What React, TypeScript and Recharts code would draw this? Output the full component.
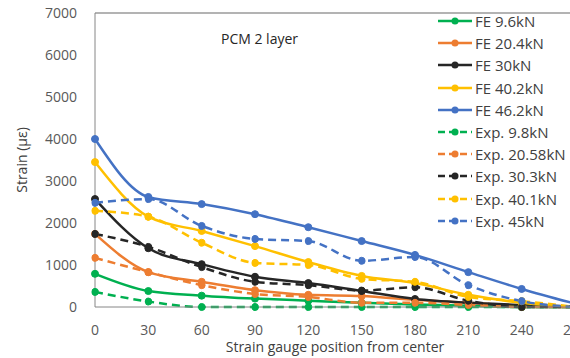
import React from "react";
import { LineChart, Line, XAxis, YAxis, ReferenceLine } from "recharts";

const positions = [0, 30, 60, 90, 120, 150, 180, 210, 240, 270];
const yTicks = [0, 1000, 2000, 3000, 4000, 5000, 6000, 7000];

// FE results
const fe96 = [790, 380, 270, 200, 150, 100, 60, 30, 0, 0];
const fe204 = [1740, 830, 600, 400, 290, 260, 170, 100, 30, 0];
const fe30 = [2570, 1400, 1020, 720, 570, 380, 190, 100, 50, 0];
const fe402 = [3450, 2150, 1810, 1450, 1070, 740, 570, 290, 100, 0];
const fe462 = [4000, 2620, 2450, 2210, 1900, 1570, 1240, 830, 430, 80];

// experimental results
const exp98 = [360, 130, 0, 0, 0, 0, 0, 0, 0, 0];
const exp2058 = [1170, 830, 520, 310, 240, 100, 100, 50, 0, 0];
const exp303 = [1740, 1430, 950, 600, 520, 390, 470, 150, 0, 0];
const exp401 = [2290, 2150, 1530, 1050, 1000, 670, 600, 240, 140, 0];
const exp45 = [2480, 2570, 1930, 1620, 1570, 1100, 1190, 520, 140, 0];

const series = [
  { key: "fe96", name: "FE 9.6kN", values: fe96, color: "#00B050", dashed: false },
  { key: "fe204", name: "FE 20.4kN", values: fe204, color: "#ED7D31", dashed: false },
  { key: "fe30", name: "FE 30kN", values: fe30, color: "#262626", dashed: false },
  { key: "fe402", name: "FE 40.2kN", values: fe402, color: "#FFC000", dashed: false },
  { key: "fe462", name: "FE 46.2kN", values: fe462, color: "#4472C4", dashed: false },
  { key: "exp98", name: "Exp. 9.8kN", values: exp98, color: "#00B050", dashed: true },
  { key: "exp2058", name: "Exp. 20.58kN", values: exp2058, color: "#ED7D31", dashed: true },
  { key: "exp303", name: "Exp. 30.3kN", values: exp303, color: "#262626", dashed: true },
  { key: "exp401", name: "Exp. 40.1kN", values: exp401, color: "#FFC000", dashed: true },
  { key: "exp45", name: "Exp. 45kN", values: exp45, color: "#4472C4", dashed: true },
];

const data = positions.map((pos, i) => {
  const row: Record<string, number> = { pos };
  series.forEach((s) => {
    row[s.key] = s.values[i];
  });
  return row;
});

const font = "'Open Sans', sans-serif";

// legend drawn by hand so it doesn't steal room from the plot area
function LegendList() {
  return (
    <div
      style={{
        position: "absolute",
        left: 438,
        top: 10,
        fontFamily: font,
        fontSize: 15,
        color: "#404040",
      }}
    >
      {series.map((s) => (
        <div
          key={s.key}
          style={{ height: 22.2, display: "flex", alignItems: "center", whiteSpace: "nowrap" }}
        >
          <svg width={36} height={10} style={{ marginRight: 1 }}>
            <line
              x1={0}
              y1={5}
              x2={34}
              y2={5}
              stroke={s.color}
              strokeWidth={2.5}
              strokeDasharray={s.dashed ? "7 4" : undefined}
            />
            <circle cx={17} cy={5} r={3.5} fill={s.color} />
          </svg>
          <span>{s.name}</span>
        </div>
      ))}
    </div>
  );
}

export default function App() {
  return (
    <div
      style={{
        position: "absolute",
        top: 0,
        left: 0,
        width: 570,
        height: 358,
        overflow: "hidden",
        background: "#fff",
      }}
    >
      <LineChart
        width={610}
        height={358}
        data={data}
        margin={{ top: 13, right: 35, left: 0, bottom: 0 }}
        style={{ fontFamily: font }}
      >
        <XAxis
          dataKey="pos"
          type="number"
          domain={[0, 270]}
          ticks={positions}
          tickLine={false}
          tickSize={0}
          tickMargin={18}
          height={51}
          stroke="#868686"
          tick={{ fill: "#595959", fontSize: 14 }}
          label={{
            value: "Strain gauge position from center",
            position: "insideBottom",
            offset: 6,
            fill: "#404040",
            fontSize: 14,
          }}
        />
        <YAxis
          type="number"
          domain={[0, 7000]}
          ticks={yTicks}
          width={95}
          tickLine={false}
          tickSize={0}
          tickMargin={18}
          stroke="#868686"
          tick={{ fill: "#595959", fontSize: 14 }}
          label={{
            value: "Strain (με)",
            angle: -90,
            position: "insideLeft",
            offset: 22,
            fill: "#404040",
            fontSize: 14,
            style: { textAnchor: "middle" },
          }}
        />
        <ReferenceLine y={7000} stroke="#9a9a9a" strokeWidth={1.5} />
        {series.map((s) => (
          <Line
            key={s.key}
            type="monotone"
            dataKey={s.key}
            name={s.name}
            stroke={s.color}
            strokeWidth={2.5}
            strokeDasharray={s.dashed ? "8 5" : undefined}
            dot={{ r: 3.5, fill: s.color, stroke: s.color, strokeWidth: 1 }}
            isAnimationActive={false}
          />
        ))}
      </LineChart>
      <LegendList />
      <div
        style={{
          position: "absolute",
          left: 221,
          top: 29,
          fontFamily: font,
          fontSize: 14,
          color: "#262626",
        }}
      >
        PCM 2 layer
      </div>
    </div>
  );
}
